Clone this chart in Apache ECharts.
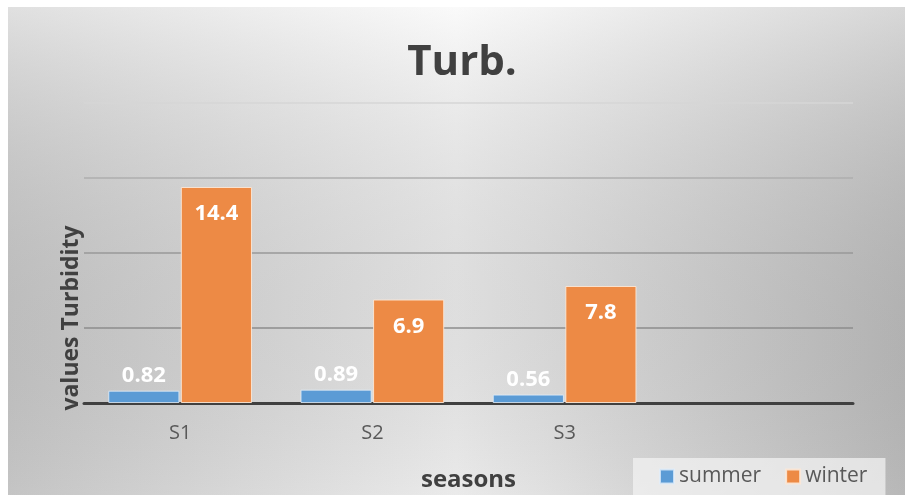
<!DOCTYPE html>
<html>
<head>
<meta charset="utf-8">
<style>
  html, body { margin: 0; padding: 0; background: #ffffff; }
  #chart { width: 905px; height: 495px; }
</style>
<script src="https://cdn.jsdelivr.net/npm/echarts@6/dist/echarts.min.js"></script>
</head>
<body>
<div id="chart"></div>
<script>
// Turbidity by sampling site, summer vs winter
const categories = ['S1', 'S2', 'S3', ''];
const summerValues = [0.82, 0.89, 0.56, null];
const winterValues = [14.4, 6.9, 7.8, null];
const seriesNames = ['summer', 'winter'];

const FONT = '"Open Sans", "Noto Sans", sans-serif';

const chart = echarts.init(document.getElementById('chart'), null, { renderer: 'canvas' });

const option = {
  backgroundColor: '#ffffff',
  animation: false,
  graphic: [
    {
      type: 'rect', z: -100, silent: true,
      shape: { x: 8, y: 7, width: 897, height: 488 },
      style: {
        fill: {
          type: 'linear', x: 0, y: 0, x2: 1, y2: 0,
          colorStops: [
            { offset: 0, color: '#cfcfcf' },
            { offset: 0.5, color: '#f7f7f7' },
            { offset: 1, color: '#c2c2c2' }
          ]
        }
      }
    },
    {
      type: 'rect', z: -99, silent: true,
      shape: { x: 8, y: 7, width: 897, height: 488 },
      style: {
        fill: {
          type: 'linear', x: 0, y: 0, x2: 0, y2: 1,
          colorStops: [
            { offset: 0, color: 'rgba(255,255,255,0.35)' },
            { offset: 1, color: 'rgba(0,0,0,0.05)' }
          ]
        }
      }
    },
    {
      type: 'text', z: 10,
      x: 71, y: 318, rotation: Math.PI / 2,
      style: {
        text: 'values Turbidity',
        font: 'bold 23px ' + FONT,
        fill: '#404040',
        align: 'center',
        verticalAlign: 'middle'
      }
    }
  ],
  title: {
    text: 'Turb.',
    left: 457,
    top: 37,
    textAlign: 'center',
    textStyle: { fontFamily: FONT, fontWeight: 'bold', fontSize: 42, color: '#404040' }
  },
  legend: {
    data: seriesNames,
    left: 633,
    top: 458,
    padding: [8, 18, 12, 26],
    backgroundColor: 'rgba(242,242,242,0.75)',
    icon: 'rect',
    itemWidth: 14,
    itemHeight: 14,
    itemGap: 24,
    textStyle: { fontFamily: FONT, fontSize: 21, color: '#595959' }
  },
  grid: { left: 84, right: 52, top: 103, bottom: 92, outerBoundsMode: 'none' },
  xAxis: {
    type: 'category',
    data: categories,
    name: 'seasons',
    nameLocation: 'middle',
    nameGap: 65,
    nameTextStyle: { fontFamily: FONT, fontWeight: 'bold', fontSize: 24, color: '#404040' },
    axisLine: { lineStyle: { color: '#404040', width: 3 } },
    axisTick: { show: false },
    axisLabel: { margin: 20, fontFamily: FONT, fontSize: 20, color: '#595959' }
  },
  yAxis: {
    type: 'value',
    min: 0,
    max: 20,
    interval: 5,
    axisLabel: { show: false },
    axisLine: { show: false },
    axisTick: { show: false },
    splitLine: {
      showMinLine: true,
      lineStyle: { width: 1.5, color: ['#8c8c8c', '#8c8c8c', '#999999', '#aeaeae', '#d6d6d6'] }
    }
  },
  series: [
    {
      name: seriesNames[0],
      type: 'bar',
      data: summerValues,
      barWidth: '37%',
      barGap: '2%',
      itemStyle: { color: '#5b9bd5', borderColor: 'rgba(225,238,250,0.8)', borderWidth: 1 },
      label: {
        show: true, position: 'top', distance: 4,
        fontFamily: FONT, fontWeight: 'bold', fontSize: 22, color: '#ffffff'
      }
    },
    {
      name: seriesNames[1],
      type: 'bar',
      data: winterValues,
      barWidth: '37%',
      itemStyle: { color: '#ed8a45', borderColor: 'rgba(252,232,215,0.9)', borderWidth: 1 },
      label: {
        show: true, position: 'insideTop', distance: 16,
        fontFamily: FONT, fontWeight: 'bold', fontSize: 22, color: '#ffffff'
      }
    }
  ]
};

chart.setOption(option);
</script>
</body>
</html>
